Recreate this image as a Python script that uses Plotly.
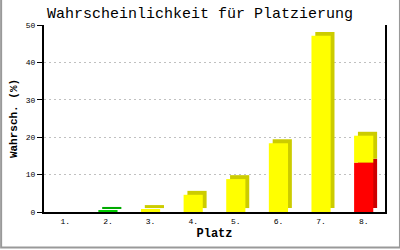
import plotly.graph_objects as go

places = ["1.", "2.", "3.", "4.", "5.", "6.", "7.", "8."]
base_vals = [0, 0.3, 0.8, 4.6, 8.8, 18.4, 47.1, 13.2]      # lower segment
top_vals = [0, 0, 0, 0, 0, 0, 0, 7.2]                      # upper segment (place 8)
front_colors = ["#ffff00", "#00cc00", "#ffff00", "#ffff00", "#ffff00", "#ffff00", "#ffff00", "#ff0000"]
side_colors = ["#cccc00", "#00aa00", "#cccc00", "#cccc00", "#cccc00", "#cccc00", "#cccc00", "#cc0000"]
top_front = "#ffff00"
top_side = "#cccc00"

W = 0.45
DX = 0.09
DY = 1.05

fig = go.Figure()
# depth (3D side) traces
fig.add_trace(go.Bar(x=places, y=base_vals, base=[DY] * 8, width=W, offset=-W / 2 + DX,
                     marker=dict(color=side_colors, line=dict(width=0)), hoverinfo="skip"))
fig.add_trace(go.Bar(x=places, y=top_vals, base=[b + DY for b in base_vals], width=W, offset=-W / 2 + DX,
                     marker=dict(color=top_side, line=dict(width=0)), hoverinfo="skip"))
# front faces
fig.add_trace(go.Bar(x=places, y=base_vals, base=[0] * 8, width=W, offset=-W / 2,
                     marker=dict(color=front_colors, line=dict(width=0))))
fig.add_trace(go.Bar(x=places, y=top_vals, base=base_vals, width=W, offset=-W / 2,
                     marker=dict(color=top_front, line=dict(width=0))))

mono = "Liberation Mono"
fig.update_layout(
    width=400, height=250,
    margin=dict(l=43, r=15, t=25, b=36),
    paper_bgcolor="white", plot_bgcolor="white",
    barmode="overlay", showlegend=False,
    title=dict(text="Wahrscheinlichkeit für Platzierung", x=0.5, xanchor="center",
               y=0.95, yanchor="middle", font=dict(family=mono, size=15, color="black")),
    xaxis=dict(showline=True, linecolor="black", linewidth=2, ticks="", showgrid=False,
               tickfont=dict(family=mono, size=8, color="black"),
               title=dict(text="<b>Platz</b>", font=dict(family=mono, size=12, color="black"), standoff=4),
               fixedrange=True),
    yaxis=dict(range=[0, 50], tickvals=[0, 10, 20, 30, 40, 50], showline=True, linecolor="black",
               linewidth=2, mirror=True, ticks="outside", ticklen=5, tickcolor="black", tickwidth=1,
               showgrid=True, gridcolor="#c0c0c0", griddash="2px,3px", gridwidth=1, zeroline=False,
               tickfont=dict(family=mono, size=8, color="black"),
               title=dict(text="<b>Wahrsch. (%)</b>", font=dict(family=mono, size=11, color="black"), standoff=6),
               fixedrange=True),
    shapes=[dict(type="rect", xref="paper", yref="paper",
                 x0=-43 / 342, x1=357 / 342, y0=-36 / 189, y1=225 / 189,
                 line=dict(color="#999999", width=2), fillcolor="rgba(0,0,0,0)", layer="above")],
)

fig.write_html("out.html", config={"displayModeBar": False})
